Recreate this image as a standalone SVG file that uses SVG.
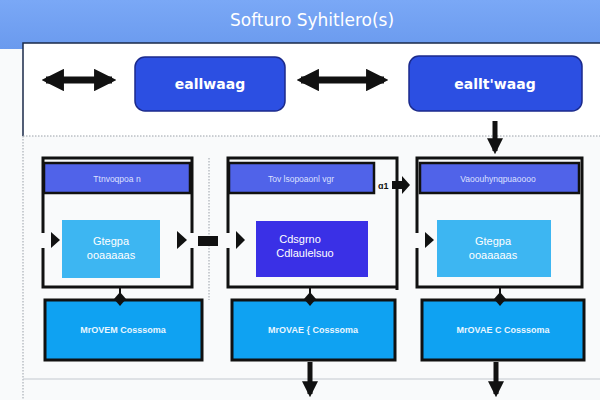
<svg xmlns="http://www.w3.org/2000/svg" width="600" height="400" viewBox="0 0 600 400">
<defs>
<linearGradient id="band" x1="0" y1="0" x2="0" y2="1">
<stop offset="0" stop-color="#7aa8f6"/>
<stop offset="1" stop-color="#6a9aee"/>
</linearGradient>
<marker id="ah" viewBox="0 0 10 10" refX="8" refY="5" markerWidth="3.2" markerHeight="3.2" orient="auto-start-reverse">
<path d="M0,0 L10,5 L0,10 z" fill="#111"/>
</marker>
</defs>
<style>
.title{font-family:"DejaVu Sans","Liberation Sans",sans-serif;font-size:17px;fill:#ffffff}
.tb{fill:#2c4fe2;stroke:#1b2a8c;stroke-width:1.5}
.tbt{font-family:"DejaVu Sans","Liberation Sans",sans-serif;font-size:14px;font-weight:bold;fill:#ffffff}
.frame{fill:none;stroke:#111;stroke-width:3}
.hdr{fill:#5063e9;stroke:#111;stroke-width:2.5}
.hdrt{font-family:"Liberation Sans",sans-serif;font-size:8.5px;fill:#dde0ff}
.lb{fill:#3db6f2}
.db{fill:#3a30e6}
.inner{font-family:"Liberation Sans",sans-serif;font-size:11px;fill:#ffffff}
.bb{fill:#0fa2f2;stroke:#111;stroke-width:3}
.bbt{font-family:"Liberation Sans",sans-serif;font-size:9px;font-weight:bold;fill:#e8f6ff}
.con{stroke:#111;fill:none}
.dot{stroke:#9aa0a8;stroke-width:1;stroke-dasharray:1.5 1.5;fill:none}
</style>
<rect width="600" height="400" fill="#f9fafb"/>
<rect x="0" y="0" width="600" height="49" fill="url(#band)"/>
<rect x="23" y="43" width="577" height="93" fill="#ffffff"/>
<path d="M23,136 V43 H600" fill="none" stroke="#1a2a4a" stroke-width="1.5"/>
<text class="title" x="312" y="26" text-anchor="middle">Softuro Syhitlero(s)</text>
<path class="dot" d="M23,136 H600 M23,136 V400 M209,158 V300"/>
<path d="M23,379 H600" stroke="#c4c8cf" stroke-width="1.2"/>

<g id="top-node-1"><rect class="tb" x="135" y="57" width="150" height="54" rx="10"/><text class="tbt" x="210" y="89" text-anchor="middle">eallwaag</text></g>
<g id="top-node-2"><rect class="tb" x="409" y="56" width="173" height="55" rx="10"/><text class="tbt" x="495" y="89" text-anchor="middle">eallt'waag</text></g>

<g id="col-1">
<path class="frame" d="M43,233 V158 H192 V233 M43,248 V287 H192 V248"/>
<rect class="hdr" x="44" y="163" width="146" height="30"/>
<text class="hdrt" x="117" y="182" text-anchor="middle">Ttnvoqpoa n</text>
<rect class="lb" x="62" y="220" width="98" height="58"/>
<text class="inner" x="111" y="245" text-anchor="middle">Gtegpa</text>
<text class="inner" x="111" y="259" text-anchor="middle" font-size="8">ooaaaaas</text>
</g>
<g id="col-2">
<path class="frame" d="M228,233 V158 H397 V290 M228,248 V287 H397"/>
<rect class="hdr" x="229" y="163" width="145" height="30"/>
<text class="hdrt" x="301" y="182" text-anchor="middle">Tov lsopoaonl vgr</text>
<rect class="db" x="256" y="221" width="112" height="56"/>
<text class="inner" x="300" y="243" text-anchor="middle">Cdsgrno</text>
<text class="inner" x="305" y="257" text-anchor="middle">Cdlaulelsuo</text>
</g>
<g id="col-3">
<path class="frame" d="M417,233 V158 H582 V287 H417 V248"/>
<rect class="hdr" x="420" y="163" width="159" height="30"/>
<text class="hdrt" x="498" y="182" text-anchor="middle">Vaoouhynqpuaoooo</text>
<rect class="lb" x="437" y="220" width="114" height="57"/>
<text class="inner" x="493" y="245" text-anchor="middle">Gtegpa</text>
<text class="inner" x="493" y="259" text-anchor="middle" font-size="8">ooaaaaas</text>
</g>

<g id="bottom-node-1"><rect class="bb" x="45" y="300" width="157" height="60"/><text class="bbt" x="123" y="333" text-anchor="middle">MrOVEM Cosssoma</text></g>
<g id="bottom-node-2"><rect class="bb" x="232" y="300" width="163" height="60"/><text class="bbt" x="313" y="333" text-anchor="middle">MrOVAE { Cosssoma</text></g>
<g id="bottom-node-3"><rect class="bb" x="422" y="300" width="162" height="60"/><text class="bbt" x="503" y="333" text-anchor="middle">MrOVAE C Cosssoma</text></g>

<g id="connectors">
<line class="con" x1="46" y1="80" x2="112" y2="80" stroke-width="7" marker-start="url(#ah)" marker-end="url(#ah)"/>
<line class="con" x1="301" y1="80" x2="384" y2="80" stroke-width="7" marker-start="url(#ah)" marker-end="url(#ah)"/>
<line class="con" x1="495" y1="121" x2="495" y2="151" stroke-width="5" marker-end="url(#ah)"/>
<path d="M51,232 L60,240 L51,248 z" fill="#111"/>
<path d="M177,231 L187,240 L177,249 z" fill="#111"/>
<rect x="198" y="236" width="20" height="10" fill="#111"/>
<path d="M236,231 L245,240 L236,249 z" fill="#111"/>
<path d="M425,232 L434,240 L425,248 z" fill="#111"/>
<text x="378" y="189" font-family="Liberation Sans,sans-serif" font-size="9" font-weight="bold" fill="#111">ɑ1</text>
<path d="M392,181 H402 V176 L410,185 L402,194 V189 H392 z" fill="#111"/>
<line class="con" x1="120" y1="287" x2="120" y2="300" stroke-width="2"/>
<line class="con" x1="310" y1="287" x2="310" y2="300" stroke-width="2"/>
<line class="con" x1="500" y1="287" x2="500" y2="300" stroke-width="2"/>
<path d="M120,292 L126,299 L120,306 L114,299 z" fill="#111"/>
<path d="M310,292 L316,299 L310,306 L304,299 z" fill="#111"/>
<path d="M500,292 L506,299 L500,306 L494,299 z" fill="#111"/>
<line class="con" x1="310" y1="362" x2="310" y2="394" stroke-width="5" marker-end="url(#ah)"/>
<line class="con" x1="496" y1="362" x2="496" y2="394" stroke-width="5" marker-end="url(#ah)"/>
</g>
</svg>
